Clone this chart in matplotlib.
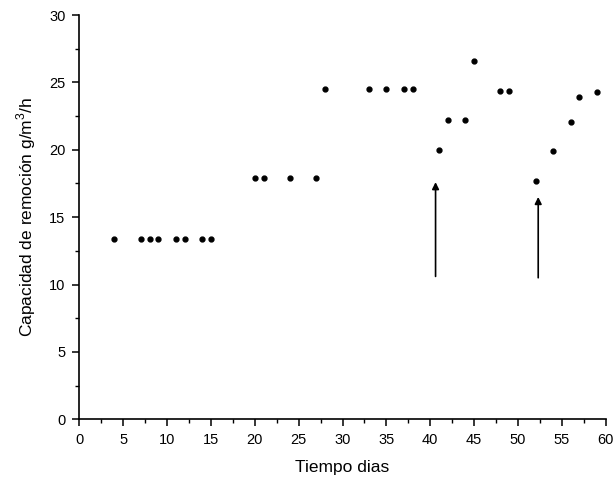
import numpy as np
import matplotlib
matplotlib.use("Agg")
import matplotlib.pyplot as plt
from matplotlib.ticker import MultipleLocator

# Datos
dias = [4, 7, 8, 9, 11, 12, 14, 15,
        20, 21, 24, 27,
        28, 33, 35, 37, 38,
        41, 42, 44, 45, 48, 49,
        52, 54, 56, 57, 59]
capacidad = [13.4, 13.4, 13.4, 13.4, 13.4, 13.4, 13.4, 13.4,
             17.9, 17.9, 17.9, 17.9,
             24.5, 24.5, 24.5, 24.5, 24.5,
             20.0, 22.2, 22.2, 26.6, 24.4, 24.4,
             17.7, 19.9, 22.1, 23.9, 24.3]

# flechas (cambios de carga)
flecha_x = [40.6, 52.3]
flecha_inicio = [10.6, 10.5]
flecha_fin = [17.6, 16.5]

XLABEL = "Tiempo dias"
YLABEL = "Capacidad de remoción g/m$^3$/h"

plt.rcParams['font.family'] = ['Liberation Sans', 'DejaVu Sans']
plt.rcParams['mathtext.fontset'] = 'custom'
plt.rcParams['mathtext.rm'] = 'Liberation Sans'

fig = plt.figure(figsize=(6.15, 4.88), dpi=100)
ax = fig.add_axes([0.129, 0.141, 0.856, 0.828])

ax.plot(dias, capacidad, 'o', color='black', markersize=3.5)

for x, y0, y1 in zip(flecha_x, flecha_inicio, flecha_fin):
    ax.annotate('', xy=(x, y1), xytext=(x, y0),
                arrowprops=dict(arrowstyle='-|>', color='black', lw=1.2,
                                mutation_scale=10, shrinkA=0, shrinkB=0))

ax.set_xlim(0, 60)
ax.set_ylim(0, 30)
ax.xaxis.set_major_locator(MultipleLocator(5))
ax.xaxis.set_minor_locator(MultipleLocator(2.5))
ax.yaxis.set_major_locator(MultipleLocator(5))
ax.yaxis.set_minor_locator(MultipleLocator(2.5))
ax.tick_params(which='major', length=5, width=1.1, labelsize=10.5, direction='out', pad=5)
ax.tick_params(which='minor', length=3, width=1.0, direction='out')

ax.spines['top'].set_visible(False)
ax.spines['right'].set_visible(False)
ax.spines['left'].set_linewidth(1.2)
ax.spines['bottom'].set_linewidth(1.2)

ax.set_xlabel(XLABEL, fontsize=12.5, labelpad=9)
ax.set_ylabel(YLABEL, fontsize=12.5, labelpad=8)

fig.savefig("out.png", dpi=100)
